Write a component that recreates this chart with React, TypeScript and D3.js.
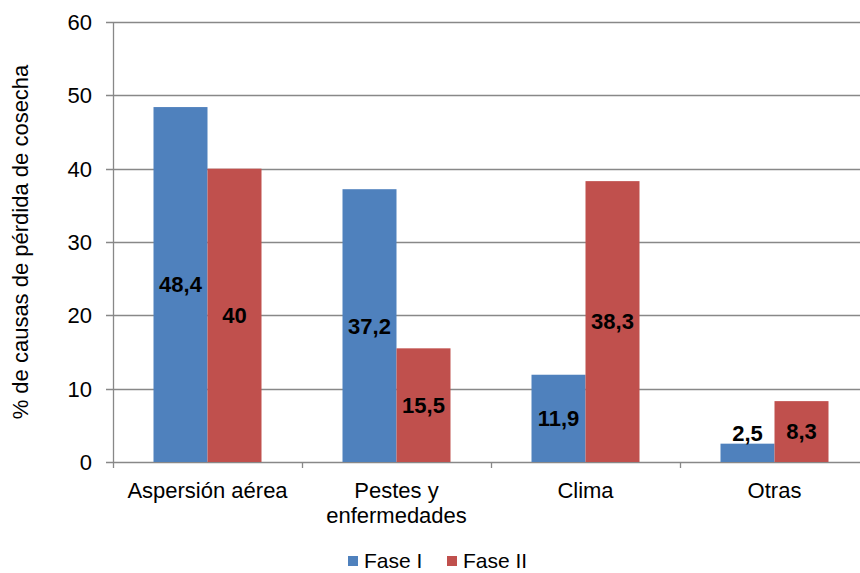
import React from "react";
import * as d3 from "d3";

const categories: string[][] = [["Aspersión aérea"], ["Pestes y", "enfermedades"], ["Clima"], ["Otras"]];
const categoryKeys = ["Aspersión aérea", "Pestes y enfermedades", "Clima", "Otras"];
const series = ["Fase I", "Fase II"];
const faseI = [48.4, 37.2, 11.9, 2.5];
const faseII = [40, 15.5, 38.3, 8.3];
const yTicks = [0, 10, 20, 30, 40, 50, 60];
const colors = ["#4F81BD", "#C0504D"];

const W = 860;
const H = 573;
const FONT = "'Liberation Sans', Arial, sans-serif";

export default function App() {
  const left = 113;
  const right = 869;
  const top = 22;
  const bottom = 462;
  const y = d3.scaleLinear().domain([0, 60]).range([bottom, top]);
  const x0 = d3.scaleBand<string>().domain(categoryKeys).range([left, right]).padding(0);
  const x1 = d3.scaleBand<string>().domain(series).range([0, x0.bandwidth()]).paddingInner(0).paddingOuter(0.75);
  const values = [faseI, faseII];
  const fmt = (v: number) => String(v).replace(".", ",");
  const gridColor = "#888888";

  return (
    <svg width={W} height={H} style={{ position: "absolute", left: 0, top: 0, background: "#fff" }}>
      <rect x={0} y={0} width={W} height={H} fill="#fff" />
      {yTicks.map((t) => (
        <g key={t}>
          <line x1={left - 7} x2={W} y1={Math.round(y(t)) + 0.5} y2={Math.round(y(t)) + 0.5} stroke={gridColor} strokeWidth={1.3} />
          <text x={left - 21} y={y(t)} dy="0.36em" textAnchor="end" fontFamily={FONT} fontSize={22} fill="#000">{t}</text>
        </g>
      ))}
      <line x1={left + 0.5} x2={left + 0.5} y1={top} y2={bottom + 6} stroke={gridColor} strokeWidth={1.3} />
      {categoryKeys.map((c, i) => (
        <line key={"t" + i} x1={(x0(c) as number) + x0.bandwidth() + 0.5} x2={(x0(c) as number) + x0.bandwidth() + 0.5} y1={bottom} y2={bottom + 6} stroke={gridColor} strokeWidth={1.3} />
      ))}
      {categoryKeys.map((c, i) =>
        series.map((s, j) => {
          const v = values[j][i];
          const bx = (x0(c) as number) + (x1(s) as number);
          return (
            <rect key={c + s} x={bx} y={y(v)} width={x1.bandwidth()} height={bottom - y(v)} fill={colors[j]} />
          );
        })
      )}
      {categoryKeys.map((c, i) =>
        series.map((s, j) => {
          const v = values[j][i];
          const bx = (x0(c) as number) + (x1(s) as number);
          const cy = Math.min((y(v) + bottom) / 2, bottom - 29);
          return (
            <text key={"l" + c + s} x={bx + x1.bandwidth() / 2} y={cy} dy="0.36em" textAnchor="middle" fontFamily={FONT} fontSize={22} fontWeight="bold" fill="#000">{fmt(v)}</text>
          );
        })
      )}
      {categoryKeys.map((c, i) => (
        <text key={"c" + i} x={(x0(c) as number) + x0.bandwidth() / 2} y={498} textAnchor="middle" fontFamily={FONT} fontSize={22} fill="#000">
          {categories[i].map((line, k) => (
            <tspan key={k} x={(x0(c) as number) + x0.bandwidth() / 2} dy={k === 0 ? 0 : 25}>{line}</tspan>
          ))}
        </text>
      ))}
      <text transform={`translate(28, ${(top + bottom) / 2}) rotate(-90)`} textAnchor="middle" fontFamily={FONT} fontSize={22} fill="#000">% de causas de pérdida de cosecha</text>
      {series.map((s, j) => {
        const lx = [348, 447][j];
        return (
          <g key={"lg" + s}>
            <rect x={lx} y={556} width={10} height={10} fill={colors[j]} />
            <text x={lx + 16} y={561} dy="0.35em" fontFamily={FONT} fontSize={21} fill="#000">{s}</text>
          </g>
        );
      })}
    </svg>
  );
}
